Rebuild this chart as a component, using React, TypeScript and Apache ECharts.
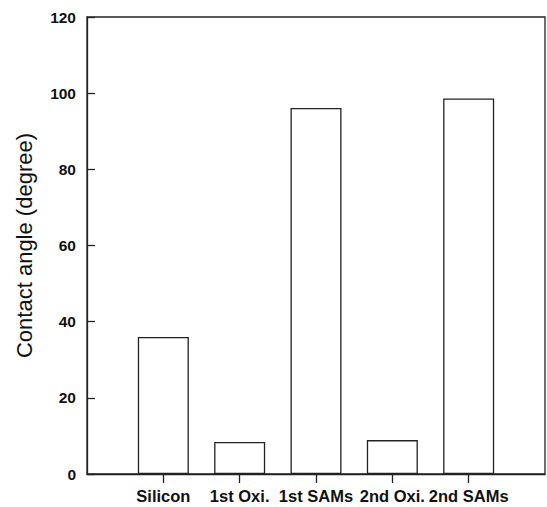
import React, { useEffect, useRef } from "react";
import * as echarts from "echarts";

const categories = ["Silicon", "1st Oxi.", "1st SAMs", "2nd Oxi.", "2nd SAMs"];
const contactAngles = [36.0, 8.4, 96.1, 8.9, 98.6];
const yTicks = [0, 20, 40, 60, 80, 100, 120];

export default function App() {
  const ref = useRef<HTMLDivElement>(null);
  useEffect(() => {
    if (!ref.current) return;
    const chart = echarts.init(ref.current, null, { renderer: "svg" });
    const positions = categories.map((_, i) => i + 1);
    chart.setOption({
      animation: false,
      backgroundColor: "#ffffff",
      grid: {
        left: 87,
        top: 17,
        right: 2,
        bottom: 33,
        show: true,
        borderColor: "#222",
        borderWidth: 1.3,
        containLabel: false,
      },
      xAxis: {
        type: "value",
        min: 0,
        max: categories.length + 1,
        interval: 1,
        splitLine: { show: false },
        axisLine: { show: true, lineStyle: { color: "#222", width: 1.3 } },
        axisTick: {
          show: true,
          inside: false,
          length: 9,
          customValues: positions,
          lineStyle: { color: "#222", width: 1.3 },
        },
        axisLabel: {
          customValues: positions,
          formatter: (v: number) => categories[Math.round(v) - 1] ?? "",
          color: "#111",
          fontFamily: "Liberation Sans, Arial, sans-serif",
          fontSize: 16.5,
          fontWeight: "bold",
          margin: 13,
        },
      },
      yAxis: {
        type: "value",
        min: 0,
        max: 120,
        interval: 20,
        name: "Contact angle (degree)",
        nameLocation: "middle",
        nameGap: 52,
        nameTextStyle: {
          color: "#111",
          fontFamily: "Liberation Sans, Arial, sans-serif",
          fontSize: 22,
        },
        splitLine: { show: false },
        axisLine: { show: true, lineStyle: { color: "#222", width: 1.3 } },
        axisTick: { show: true, inside: true, length: 8, lineStyle: { color: "#222", width: 1.3 } },
        axisLabel: {
          color: "#111",
          fontFamily: "Liberation Sans, Arial, sans-serif",
          fontSize: 15.5,
          fontWeight: "bold",
          margin: 11,
          formatter: (v: number) => (yTicks.includes(v) ? String(v) : ""),
        },
      },
      series: [
        {
          type: "bar",
          data: contactAngles.map((v, i) => [positions[i], v]),
          barWidth: 51,
          itemStyle: { color: "#ffffff", borderColor: "#222", borderWidth: 1.3 },
        },
      ],
    });
    return () => chart.dispose();
  }, []);
  return <div ref={ref} style={{ width: 547, height: 507, position: "absolute", left: 0, top: 0 }} />;
}
